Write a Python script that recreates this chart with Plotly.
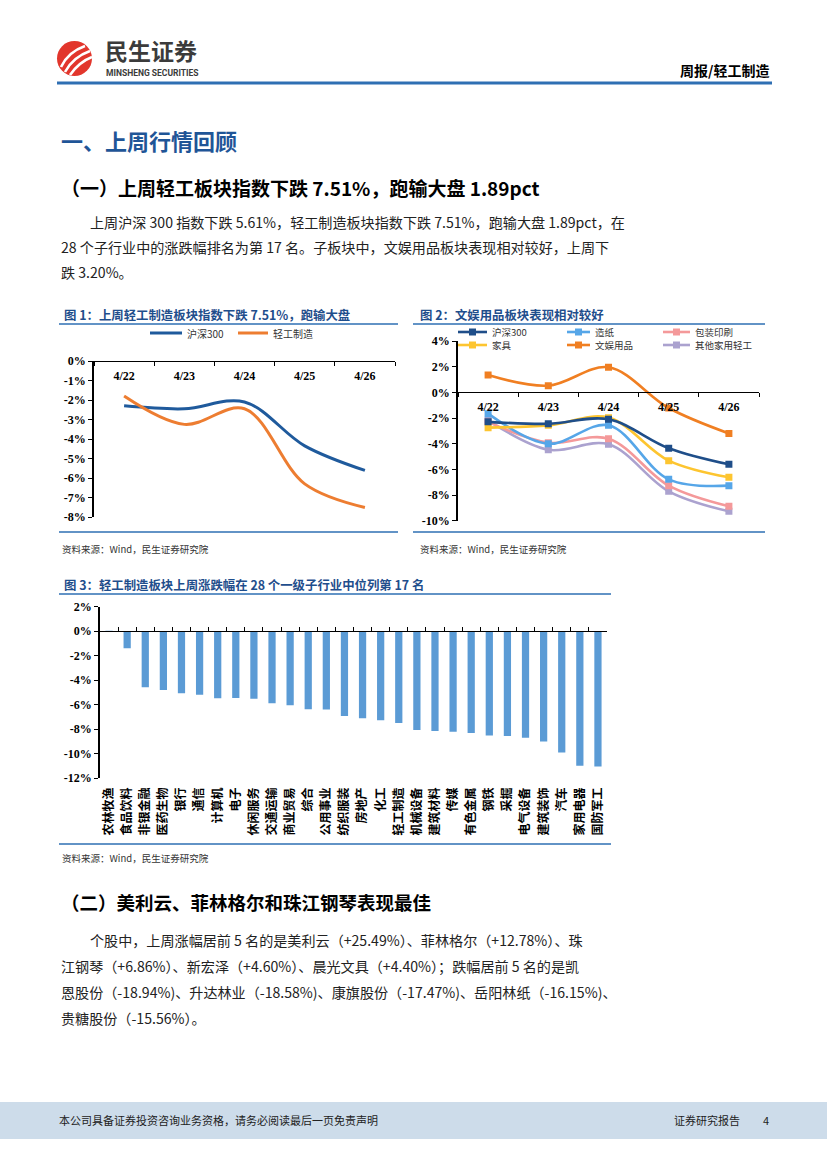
import plotly.graph_objects as go

W, H = 827, 1169


def px(x):
    return x / W


def py(y):
    return 1 - y / H


# ---------------- data ----------------
dates = ["4/22", "4/23", "4/24", "4/25", "4/26"]

# Figure 1
hs300 = [-2.30, -2.45, -2.10, -4.35, -5.61]
qgzz = [-1.80, -3.25, -2.45, -6.30, -7.51]

# Figure 2 (sub-sectors)
zaozhi = [-1.66, -4.00, -2.57, -6.78, -7.27]
baozhuang = [-2.30, -3.92, -3.61, -7.27, -8.88]
jiaju = [-2.75, -2.57, -1.97, -5.32, -6.62]
wenyu = [1.35, 0.52, 1.95, -1.22, -3.20]
qita = [-2.18, -4.47, -4.05, -7.71, -9.27]

# Figure 3 (28 first-level industries)
industries = ["农林牧渔", "食品饮料", "非银金融", "医药生物", "银行", "通信", "计算机",
              "电子", "休闲服务", "交通运输", "商业贸易", "综合", "公用事业", "纺织服装",
              "房地产", "化工", "轻工制造", "机械设备", "建筑材料", "传媒", "有色金属",
              "钢铁", "采掘", "电气设备", "建筑装饰", "汽车", "家用电器", "国防军工"]
ind_chg = [0.03, -1.40, -4.59, -4.81, -5.08, -5.19, -5.49, -5.47, -5.52, -5.90,
           -6.06, -6.39, -6.41, -6.93, -7.12, -7.28, -7.51, -8.07, -8.15, -8.23,
           -8.32, -8.53, -8.56, -8.72, -9.02, -9.92, -11.00, -11.06]

y1_ticks = [0, -1, -2, -3, -4, -5, -6, -7, -8]
y2_ticks = [4, 2, 0, -2, -4, -6, -8, -10]
y3_ticks = [2, 0, -2, -4, -6, -8, -10, -12]

# ---------------- styles ----------------
TICKFONT = dict(family="Liberation Serif", size=12, color="black", weight="bold")
CJK = "Noto Sans CJK SC"
TITLE_BLUE = "#1f4e8c"

fig = go.Figure()

# Figure 1 traces
fig.add_trace(go.Scatter(x=dates, y=hs300, mode="lines", name="沪深300",
                         line=dict(color="#1f5a9c", width=3, shape="spline", smoothing=1),
                         xaxis="x", yaxis="y", showlegend=False))
fig.add_trace(go.Scatter(x=dates, y=qgzz, mode="lines", name="轻工制造",
                         line=dict(color="#ed7d31", width=3, shape="spline", smoothing=1),
                         xaxis="x", yaxis="y", showlegend=False))

# Figure 2 traces
f2 = [("沪深300", hs300, "#1f4e89"),
      ("造纸", zaozhi, "#56a6e8"),
      ("包装印刷", baozhuang, "#f4999a"),
      ("家具", jiaju, "#fdc530"),
      ("文娱用品", wenyu, "#f07f22"),
      ("其他家用轻工", qita, "#aba2cf")]
draw_order = [5, 2, 1, 3, 0, 4]
for i in draw_order:
    name, vals, col = f2[i]
    fig.add_trace(go.Scatter(x=dates, y=vals, mode="lines+markers", name=name,
                             line=dict(color=col, width=2.6, shape="spline", smoothing=1),
                             marker=dict(symbol="square", size=7, color=col),
                             xaxis="x2", yaxis="y2", showlegend=False))

# Figure 3 bars
fig.add_trace(go.Bar(x=industries, y=ind_chg, marker=dict(color="#5b9bd5"),
                     xaxis="x3", yaxis="y3", showlegend=False))
# helper (empty) trace for the zero-line axis of figure 3
fig.add_trace(go.Scatter(x=[None], y=[None], xaxis="x4", yaxis="y3",
                         showlegend=False, hoverinfo="skip"))

fig.update_layout(
    template="none",
    width=W, height=H, margin=dict(l=0, r=0, t=0, b=0, pad=0, autoexpand=False),
    paper_bgcolor="white", plot_bgcolor="rgba(0,0,0,0)",
    showlegend=False,
    bargap=0.6,
    # ---- Figure 1 ----
    xaxis=dict(domain=[px(94), px(395)], anchor="free", position=py(361),
               type="category", range=[-0.5, 4.5], automargin=False,
               showline=True, linecolor="black", linewidth=1,
               ticks="outside", tickson="boundaries", ticklen=4, tickcolor="black",
               ticklabelstandoff=4,
               tickfont=TICKFONT, showgrid=False, zeroline=False),
    yaxis=dict(domain=[py(517), py(361)], anchor="x", range=[-8, 0], automargin=False,
               tickvals=y1_ticks, ticktext=[f"{v}%" for v in y1_ticks],
               showline=True, linecolor="black", linewidth=1.5,
               ticks="outside", ticklen=4, tickcolor="black",
               tickfont=TICKFONT, showgrid=False, zeroline=False),
    # ---- Figure 2 ----
    xaxis2=dict(domain=[px(458), px(759)], anchor="free", position=py(392),
                type="category", range=[-0.5, 4.5], automargin=False,
                showline=True, linecolor="black", linewidth=1,
                ticks="outside", tickson="boundaries", ticklen=4, tickcolor="black",
                ticklabelstandoff=4,
                tickfont=TICKFONT, showgrid=False, zeroline=False),
    yaxis2=dict(domain=[py(520.7), py(341)], anchor="x2", range=[-10, 4], automargin=False,
                tickvals=y2_ticks, ticktext=[f"{v}%" for v in y2_ticks],
                showline=True, linecolor="black", linewidth=1.5,
                ticks="outside", ticklen=4, tickcolor="black",
                tickfont=TICKFONT, showgrid=False, zeroline=False),
    # ---- Figure 3 ----
    xaxis3=dict(domain=[px(100), px(607)], anchor="y3", type="category", automargin=False,
                showline=False, ticks="", tickangle=-90,
                tickfont=dict(family=CJK, size=12, color="black", weight="bold"),
                ticklabelstandoff=6, showgrid=False, zeroline=False),
    xaxis4=dict(domain=[px(100), px(607)], overlaying="x3", anchor="free",
                position=py(631), range=[-0.5, len(industries) - 0.5], automargin=False,
                tick0=0.5, dtick=1, ticks="inside", ticklen=4, tickcolor="black",
                showticklabels=False, showline=True, linecolor="black",
                linewidth=1, showgrid=False, zeroline=False),
    yaxis3=dict(domain=[py(778), py(606.7)], anchor="x3", range=[-12, 2], automargin=False,
                tickvals=y3_ticks, ticktext=[f"{v}%" for v in y3_ticks],
                showline=True, linecolor="black", linewidth=1.5,
                ticks="outside", ticklen=4, tickcolor="black",
                tickfont=TICKFONT, showgrid=False, zeroline=False),
)

shapes = []
ann = []


def hline(x0, x1, y, color, width):
    shapes.append(dict(type="line", xref="paper", yref="paper",
                       x0=px(x0), x1=px(x1), y0=py(y), y1=py(y),
                       line=dict(color=color, width=width)))


def text(x, y, s, size, color="black", bold=False, family=CJK, xanchor="left"):
    ann.append(dict(x=px(x), y=py(y), xref="paper", yref="paper", text=s,
                    showarrow=False, xanchor=xanchor, yanchor="middle",
                    font=dict(family=family, size=size, color=color,
                              weight="bold" if bold else "normal")))


# ---------- header ----------
shapes.append(dict(type="circle", xref="paper", yref="paper",
                   x0=px(57), x1=px(92), y0=py(76), y1=py(41),
                   fillcolor="#e2362c", line=dict(width=0)))
for (a, b, c) in [((61, 67), (68, 52), (85, 46)),
                  ((65, 72), (73, 57), (90, 51)),
                  ((70, 75), (79, 62), (92, 57))]:
    path = (f"M {px(a[0])},{py(a[1])} Q {px(b[0])},{py(b[1])} {px(c[0])},{py(c[1])}")
    shapes.append(dict(type="path", xref="paper", yref="paper", path=path,
                       line=dict(color="white", width=2.6)))
text(103, 50, "民生证券", 23, color="#3b3b3b", bold=True)
text(104, 73, "MINSHENG SECURITIES", 8.5, color="#3b3b3b", bold=True,
     family="Roboto")
text(771, 70, "周报/轻工制造", 14, color="black", bold=True, xanchor="right")
hline(57, 772, 83, "#2e6fb3", 3)

# ---------- section 1 ----------
text(59, 140, "一、上周行情回顾", 22, color="#1f5597", bold=True)
text(59, 187, "（一）上周轻工板块指数下跌 7.51%，跑输大盘 1.89pct", 19, bold=True)
para1 = ["上周沪深 300 指数下跌 5.61%，轻工制造板块指数下跌 7.51%，跑输大盘 1.89pct，在",
         "28 个子行业中的涨跌幅排名为第 17 名。子板块中，文娱用品板块表现相对较好，上周下",
         "跌 3.20%。"]
text(88, 222, para1[0], 14.1, color="#222222")
text(59, 247, para1[1], 14.1, color="#222222")
text(59, 272, para1[2], 14.1, color="#222222")

# ---------- figure 1 frame ----------
text(62, 315, "图 1：上周轻工制造板块指数下跌 7.51%，跑输大盘", 12.4,
     color=TITLE_BLUE, bold=True)
hline(59, 398, 324, "#2e6fb3", 1.5)
hline(59, 398, 532, "#2e6fb3", 1.5)
text(60, 549, "资料来源：Wind，民生证券研究院", 9.5, color="#333333")
# legend 1
for (x0, x1, tx, nm, col) in [(150, 182, 185, "沪深300", "#1f5a9c"),
                              (238, 268, 271, "轻工制造", "#ed7d31")]:
    hline(x0, x1, 333, col, 3)
    text(tx, 333, nm, 10, color="#333333")

# ---------- figure 2 frame ----------
text(418, 315, "图 2：文娱用品板块表现相对较好", 12.4, color=TITLE_BLUE, bold=True)
hline(413, 765, 324, "#2e6fb3", 1.5)
hline(413, 765, 532, "#2e6fb3", 1.5)
text(418, 549, "资料来源：Wind，民生证券研究院", 9.5, color="#333333")
leg_cols = [(458, 487, 490), (567, 590, 593), (663, 690, 693)]
leg_rows = [332, 345]
for k, (name, vals, col) in enumerate(f2):
    r, c = divmod(k, 3)
    x0, x1, tx = leg_cols[c]
    yy = leg_rows[r]
    hline(x0, x1, yy, col, 2.6)
    xm = (x0 + x1) / 2
    shapes.append(dict(type="rect", xref="paper", yref="paper",
                       x0=px(xm - 3.5), x1=px(xm + 3.5), y0=py(yy + 3.5), y1=py(yy - 3.5),
                       fillcolor=col, line=dict(width=0)))
    text(tx, yy, name, 9.5, color="#333333")

# ---------- figure 3 frame ----------
text(62, 585, "图 3：轻工制造板块上周涨跌幅在 28 个一级子行业中位列第 17 名", 12.4,
     color=TITLE_BLUE, bold=True)
hline(59, 611, 594, "#2e6fb3", 1.5)
hline(59, 611, 844, "#2e6fb3", 1.5)
text(60, 858, "资料来源：Wind，民生证券研究院", 9.5, color="#333333")

# ---------- section 2 ----------
text(59, 902, "（二）美利云、菲林格尔和珠江钢琴表现最佳", 18.5, bold=True)
para2 = ["个股中，上周涨幅居前 5 名的是美利云（+25.49%）、菲林格尔（+12.78%）、珠",
         "江钢琴（+6.86%）、新宏泽（+4.60%）、晨光文具（+4.40%）；跌幅居前 5 名的是凯",
         "恩股份（-18.94%)、升达林业（-18.58%)、康旗股份（-17.47%)、岳阳林纸（-16.15%)、",
         "贵糖股份（-15.56%）。"]
text(88, 940, para2[0], 14.1, color="#222222")
text(59, 966, para2[1], 14.1, color="#222222")
text(59, 992, para2[2], 14.1, color="#222222")
text(59, 1018, para2[3], 14.1, color="#222222")

# ---------- footer ----------
shapes.append(dict(type="rect", xref="paper", yref="paper",
                   x0=0, x1=1, y0=py(1139), y1=py(1102),
                   fillcolor="#cddcea", line=dict(width=0), layer="below"))
text(57, 1120, "本公司具备证券投资咨询业务资格，请务必阅读最后一页免责声明", 11,
     color="#222222")
text(672, 1120, "证券研究报告", 11, color="#222222")
text(761, 1120, "4", 11, color="#222222")

fig.update_layout(shapes=shapes, annotations=ann)
fig.write_html(
    "out.html",
    config={"displayModeBar": False},
    post_script="document.body.style.margin='0';document.body.style.padding='0';"
                "document.documentElement.style.overflow='hidden';",
)
